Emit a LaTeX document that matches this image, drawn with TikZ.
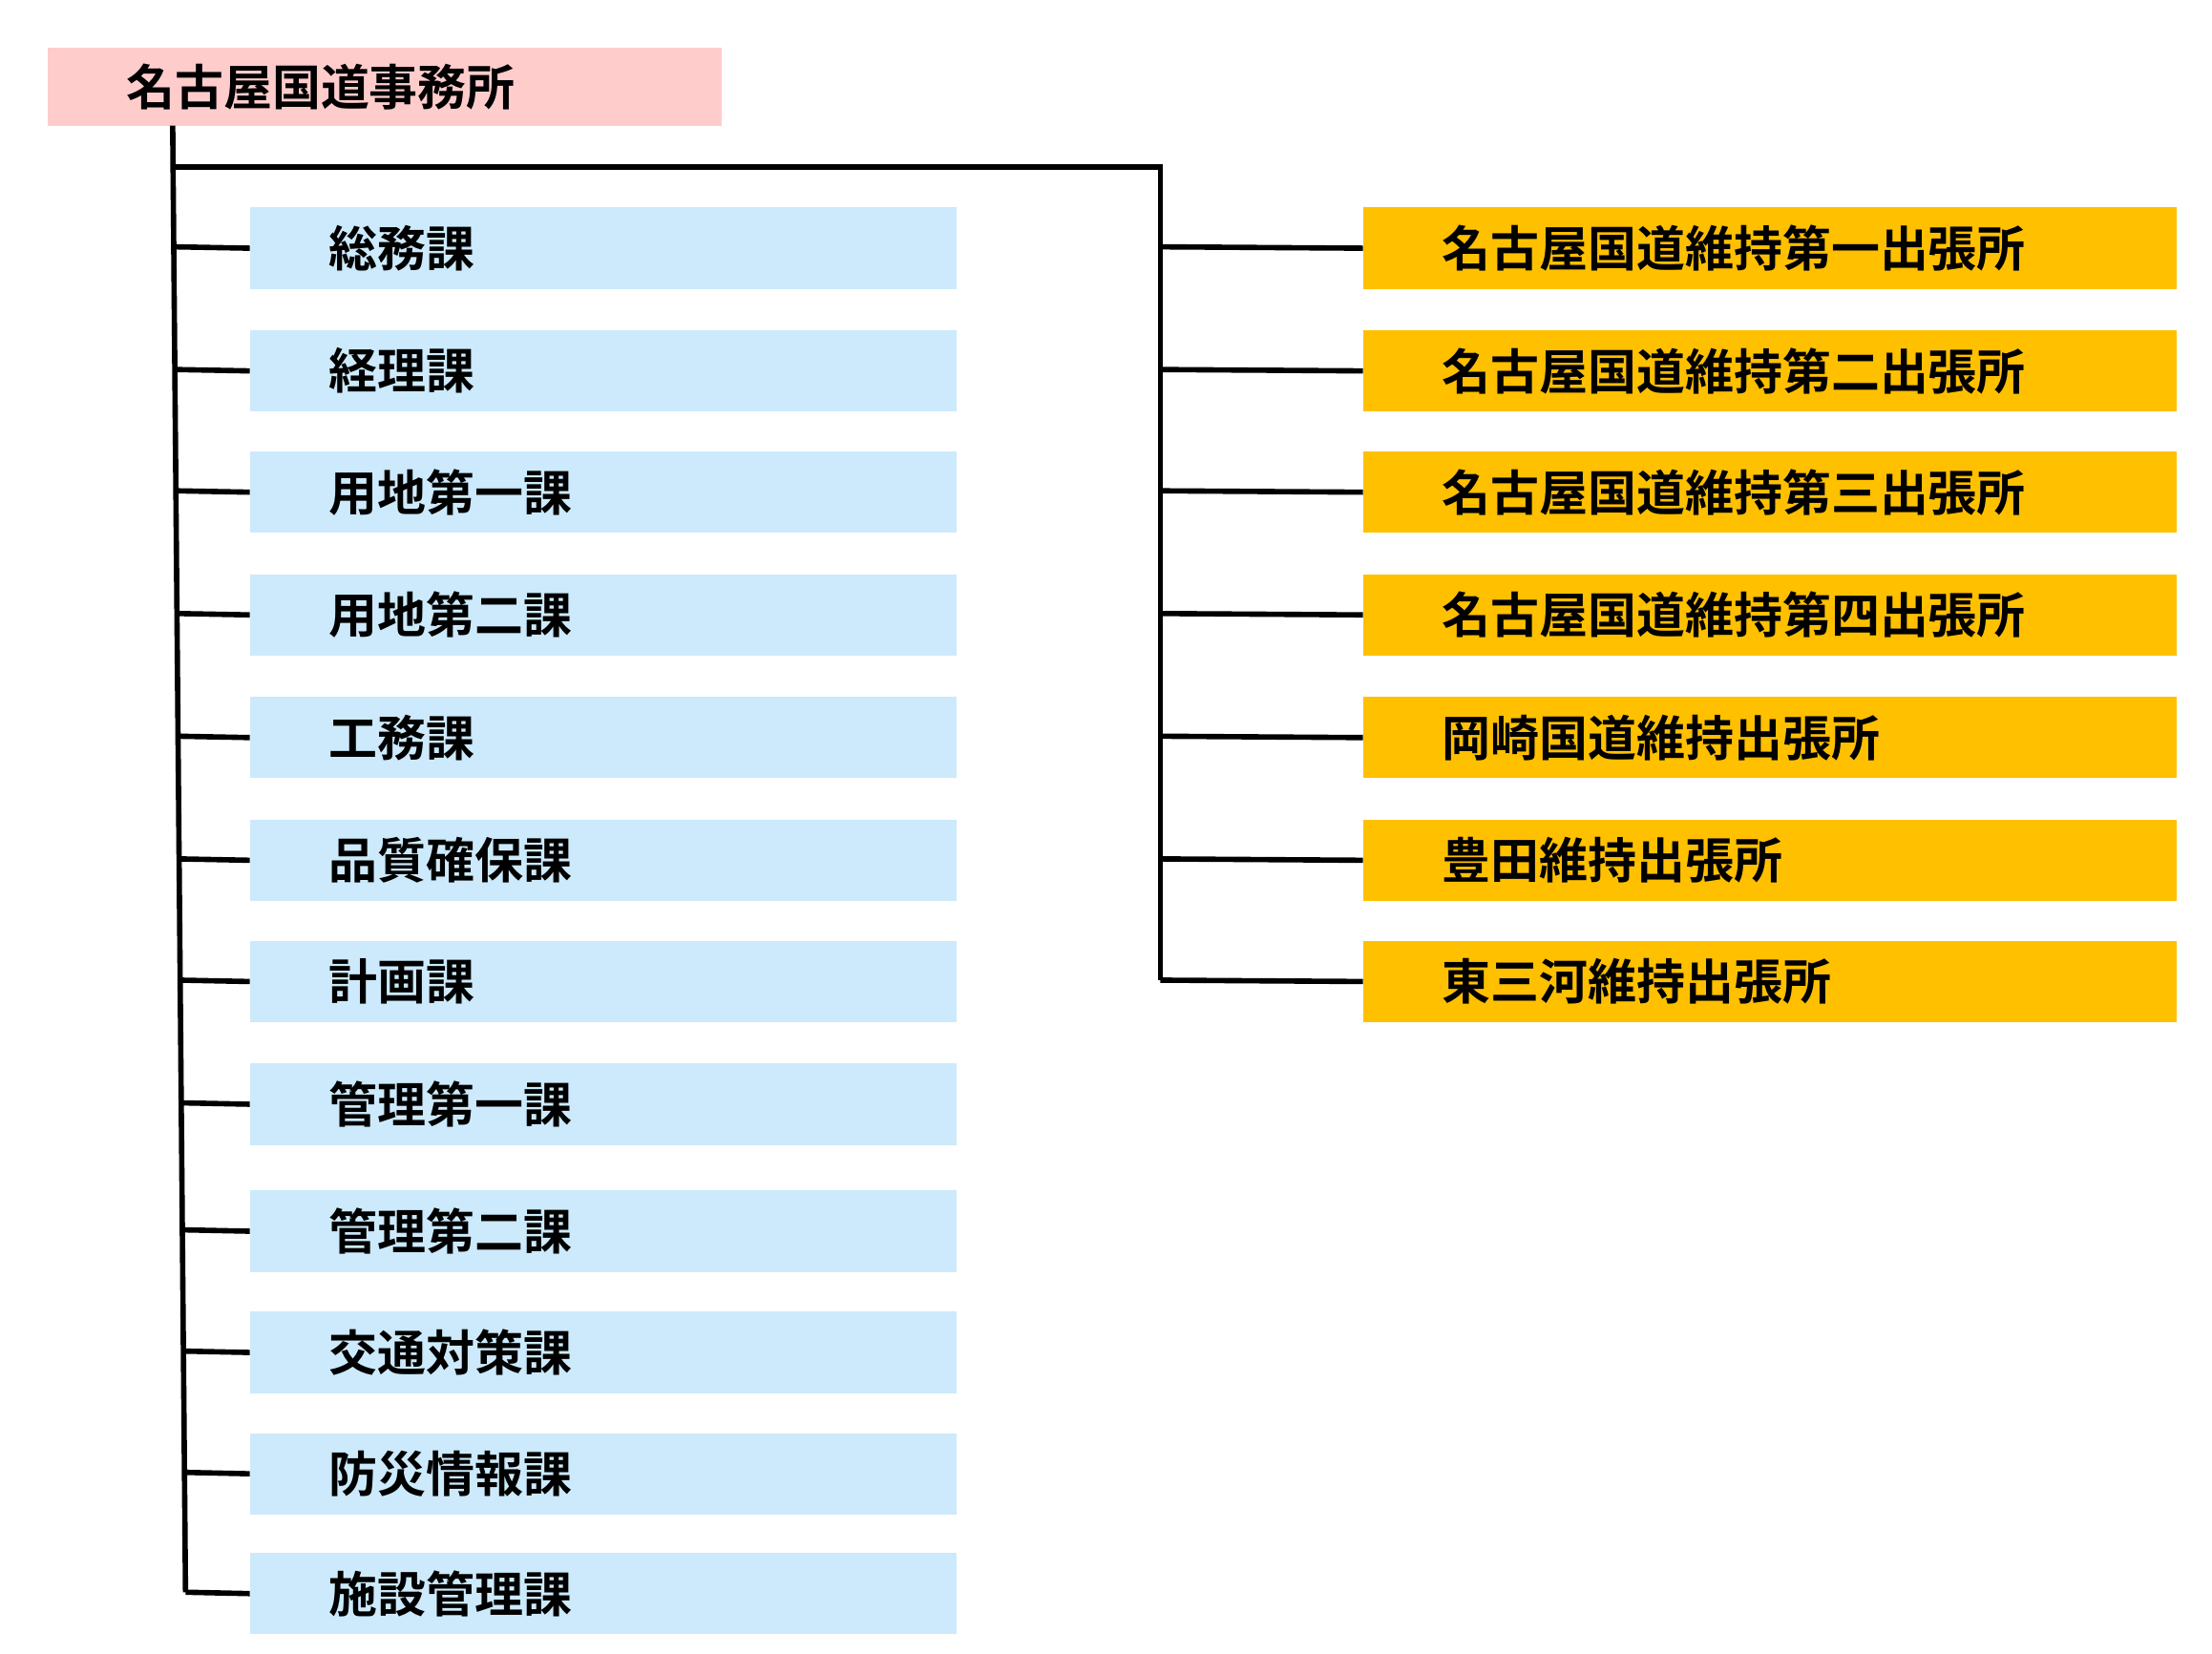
\documentclass[tikz,border=0pt]{standalone}
\usepackage{fontspec}
\setmainfont{Noto Sans CJK JP}[BoldFont={Noto Sans CJK JP Bold}]
\usetikzlibrary{positioning}
\definecolor{headpink}{RGB}{255,204,204}
\definecolor{secblue}{RGB}{204,234,251}
\definecolor{officeorange}{RGB}{255,192,0}
\tikzset{
  box/.style={anchor=north west, inner xsep=55*0.01495cm, inner ysep=0pt,
    minimum height=57*0.01495cm, align=left, font=\fontsize{14.5}{16}\selectfont\bfseries},
  sec/.style={box, fill=secblue, text width=385*0.01495cm},
  office/.style={box, fill=officeorange, text width=460*0.01495cm},
  link/.style={line width=1.6pt}
}
\begin{document}
\begin{tikzpicture}[x=0.01495cm,y=-0.01495cm]
    \useasboundingbox (0,0) rectangle (1550,1159);
    \node[box, fill=headpink, text width=362*0.01495cm, minimum height=55*0.01495cm] (head) at (33,33) {名古屋国道事務所};
    % sections
    \foreach \name/\y [count=\i] in {総務課/145,経理課/231,用地第一課/316,用地第二課/402,工務課/488,品質確保課/574,計画課/659,管理第一課/745,管理第二課/834,交通対策課/919,防災情報課/1004,施設管理課/1088}
    {
        \node[sec] (s\i) at (175,\y) {\name};
        \draw[link] (121+9*\y/1088,\y+28) -- (s\i.west);
    }
    \draw[link] (121,88) -- (130,1116);
    % offices
    \foreach \name/\y [count=\i] in {名古屋国道維持第一出張所/145,名古屋国道維持第二出張所/231,名古屋国道維持第三出張所/316,名古屋国道維持第四出張所/402,岡崎国道維持出張所/488,豊田維持出張所/574,東三河維持出張所/659}
    {
        \node[office] (o\i) at (955,\y) {\name};
        \draw[link] (813,\y+28) -- (o\i.west);
    }
    \coordinate (branch) at (813,117);
    \draw[link] (121,117) -- (branch) -- (813,687);
\end{tikzpicture}
\end{document}
